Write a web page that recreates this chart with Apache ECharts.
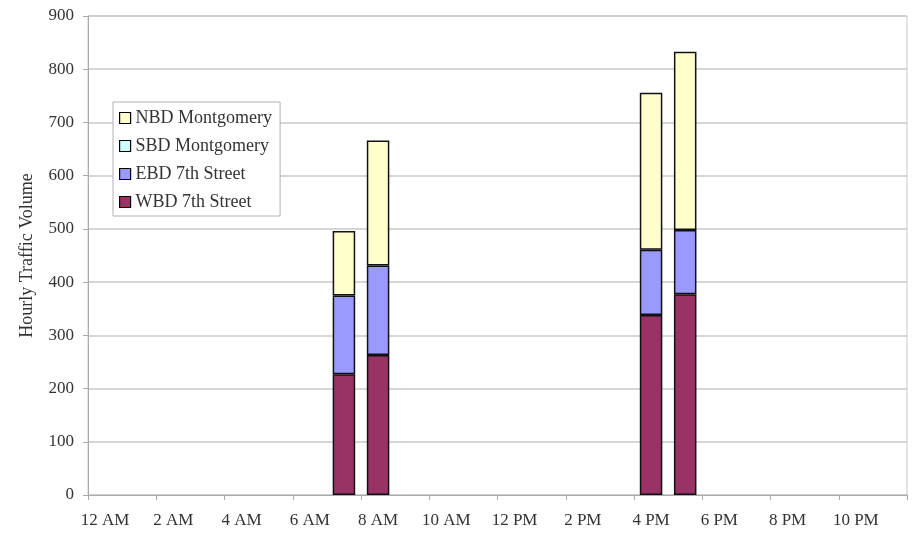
<!DOCTYPE html>
<html>
<head>
<meta charset="utf-8">
<script src="https://cdn.jsdelivr.net/npm/echarts@6/dist/echarts.min.js"></script>
<style>
  html, body { margin: 0; padding: 0; background: #fff; }
  #chart { width: 923px; height: 534px; }
</style>
</head>
<body>
<div id="chart"></div>
<script>
// hourly categories, 12 AM .. 11 PM
var hours = ['12 AM', '1 AM', '2 AM', '3 AM', '4 AM', '5 AM', '6 AM', '7 AM', '8 AM', '9 AM', '10 AM', '11 AM',
  '12 PM', '1 PM', '2 PM', '3 PM', '4 PM', '5 PM', '6 PM', '7 PM', '8 PM', '9 PM', '10 PM', '11 PM']

// counts only at 7 AM, 8 AM, 4 PM, 5 PM (other hours not counted)
var wbd7th = [null, null, null, null, null, null, null, 227, 263, null, null, null,
  null, null, null, null, 338, 377, null, null, null, null, null, null]
var ebd7th = [null, null, null, null, null, null, null, 148, 168, null, null, null,
  null, null, null, null, 123, 121, null, null, null, null, null, null]
// SBD has no visible segment anywhere
var sbdMont = [null, null, null, null, null, null, null, null, null, null, null, null,
  null, null, null, null, null, null, null, null, null, null, null, null]
var nbdMont = [null, null, null, null, null, null, null, 121, 235, null, null, null,
  null, null, null, null, 295, 335, null, null, null, null, null, null]

var yTicks = { min: 0, max: 900, interval: 100 }

var serif = '"Liberation Serif", "DejaVu Serif", serif'

function bar (name, data, color) {
  return {
    name: name,
    type: 'bar',
    stack: 'total',
    data: data,
    barWidth: '66%',
    itemStyle: { color: color, borderColor: '#111', borderWidth: 1.5 }
  }
}

var myChart = echarts.init(document.getElementById('chart'))
myChart.setOption({
  animation: false,
  grid: {
    left: 88,
    right: 16,
    top: 16,
    bottom: 39,
    show: true,
    borderColor: '#c8c8c8',
    borderWidth: 1
  },
  legend: {
    orient: 'vertical',
    left: 113,
    top: 102,
    data: ['NBD Montgomery', 'SBD Montgomery', 'EBD 7th Street', 'WBD 7th Street'],
    backgroundColor: '#fff',
    borderColor: '#b0b0b0',
    borderWidth: 1,
    borderRadius: 0,
    padding: [7, 8, 5, 6],
    itemGap: 10,
    itemWidth: 11,
    itemHeight: 11,
    icon: 'rect',
    itemStyle: { borderColor: '#000', borderWidth: 1.2 },
    textStyle: { fontFamily: serif, fontSize: 18, color: '#333' }
  },
  xAxis: {
    type: 'category',
    data: hours,
    boundaryGap: true,
    axisLine: { lineStyle: { color: '#aaa' } },
    axisTick: { show: true, length: 5, lineStyle: { color: '#aaa' } },
    axisLabel: {
      interval: 1,
      fontFamily: serif,
      fontSize: 17,
      color: '#333',
      margin: 17
    }
  },
  yAxis: {
    type: 'value',
    min: yTicks.min,
    max: yTicks.max,
    interval: yTicks.interval,
    name: 'Hourly Traffic Volume',
    nameLocation: 'middle',
    nameGap: 52,
    nameRotate: 90,
    nameTextStyle: { fontFamily: serif, fontSize: 18, color: '#333' },
    axisLine: { show: true, lineStyle: { color: '#aaa' } },
    axisTick: { show: true, length: 5, lineStyle: { color: '#aaa' } },
    axisLabel: { fontFamily: serif, fontSize: 17, color: '#333', margin: 14 },
    splitLine: { show: true, lineStyle: { color: '#c8c8c8', width: 1.5 } }
  },
  series: [
    bar('WBD 7th Street', wbd7th, '#993366'),
    bar('EBD 7th Street', ebd7th, '#9999ff'),
    bar('SBD Montgomery', sbdMont, '#ccffff'),
    bar('NBD Montgomery', nbdMont, '#ffffcc')
  ]
})
</script>
</body>
</html>
